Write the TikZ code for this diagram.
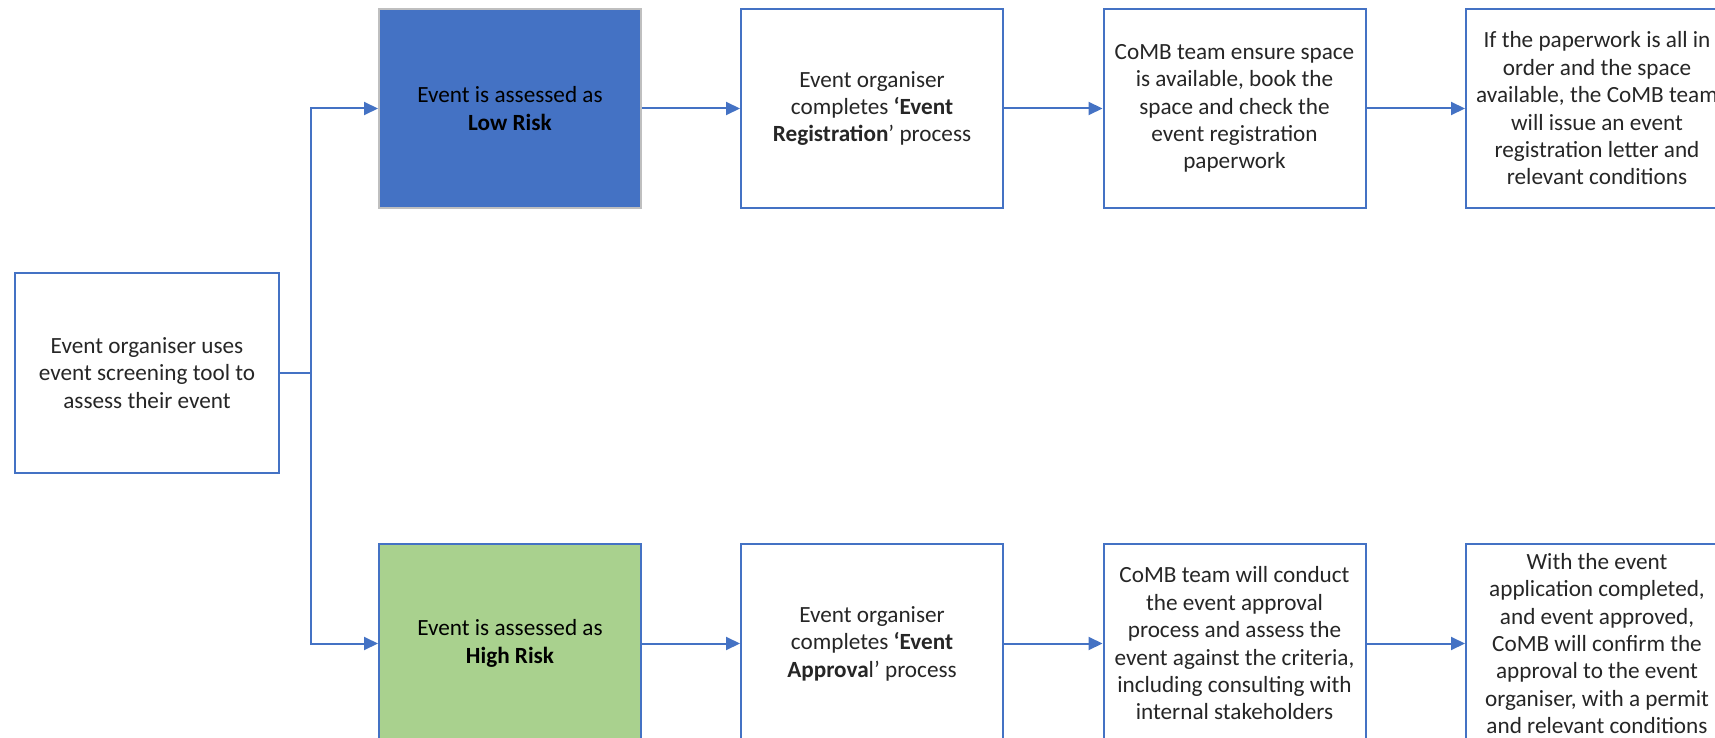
\documentclass[tikz,border=0pt]{standalone}
\usepackage{fontspec}
\setmainfont{Carlito}
\usetikzlibrary{arrows.meta}
\definecolor{officeblue}{HTML}{4472C4}
\definecolor{riskgreen}{HTML}{A9D18E}
\definecolor{boxgrey}{HTML}{BFBFBF}

\begin{document}
\begin{tikzpicture}[x=0.5pt, y=-0.5pt,
  box/.style={draw=officeblue, line width=1pt, fill=white,
    minimum width=131pt, minimum height=99.5pt, inner sep=0pt,
    align=center, text=black!85, font=\fontsize{11.6pt}{13.7pt}\selectfont},
  flow/.style={draw=officeblue, line width=1pt, -{Triangle[length=7pt,width=6.5pt]}}]
  % Page area
  \clip (0,0) rectangle (1715,738);
  \fill[white] (0,0) rectangle (1715,738);

  % Screening step
  \node[box, minimum width=132pt, minimum height=100pt] (screen) at (147,373)
    {Event organiser uses\\event screening tool to\\assess their event};
  \coordinate (branch) at (311,373);

  % Low risk row
  \node[box, fill=officeblue, draw=boxgrey, text=black] (low) at (510,108.5)
    {Event is assessed as\\\textbf{Low Risk}};
  \node[box] (reg) at (872,108.5)
    {Event organiser\\completes \textbf{‘Event}\\\textbf{Registration}’ process};
  \node[box] (ensure) at (1234.5,108.5)
    {CoMB team ensure space\\is available, book the\\space and check the\\event registration\\paperwork};
  \node[box] (letter) at (1597,108.5)
    {If the paperwork is all in\\order and the space\\available, the CoMB team\\will issue an event\\registration letter and\\relevant conditions};

  % High risk row
  \node[box, fill=riskgreen, text=black] (high) at (510,643.5)
    {Event is assessed as\\\textbf{High Risk}};
  \node[box] (appr) at (872,643.5)
    {Event organiser\\completes \textbf{‘Event}\\\textbf{Approva}l’ process};
  \node[box] (conduct) at (1234.5,643.5)
    {CoMB team will conduct\\the event approval\\process and assess the\\event against the criteria,\\including consulting with\\internal stakeholders};
  \node[box] (permit) at (1597,643.5)
    {With the event\\application completed,\\and event approved,\\CoMB will confirm the\\approval to the event\\organiser, with a permit\\and relevant conditions};

  % Connectors
  \draw[flow] (screen.east) -- (branch) |- (low.west);
  \draw[flow] (branch) |- (high.west);
  \draw[flow] (low.east) -- (reg.west);
  \draw[flow] (reg.east) -- (ensure.west);
  \draw[flow] (ensure.east) -- (letter.west);
  \draw[flow] (high.east) -- (appr.west);
  \draw[flow] (appr.east) -- (conduct.west);
  \draw[flow] (conduct.east) -- (permit.west);

\end{tikzpicture}
\end{document}
